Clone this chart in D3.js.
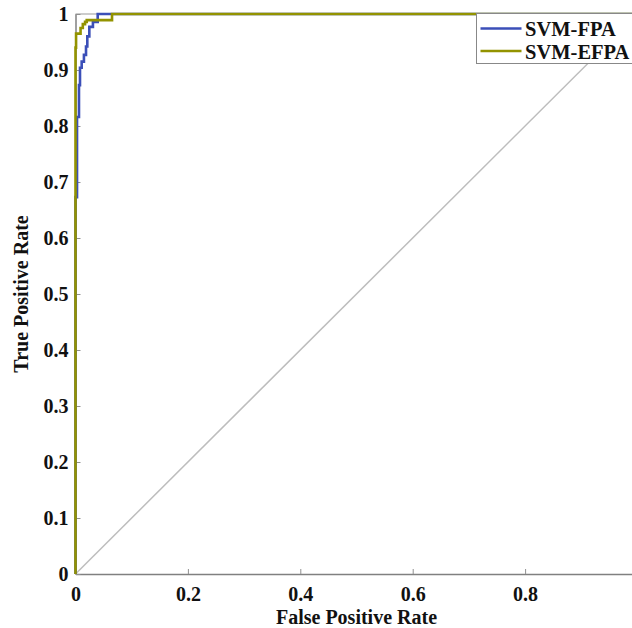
<!DOCTYPE html>
<html><head><meta charset="utf-8">
<script src="https://cdn.jsdelivr.net/npm/d3@7"></script>
<style>body{margin:0;background:#fff}svg{display:block}text{font-family:"Liberation Serif","Times New Roman",serif;font-weight:bold}</style>
</head><body>
<svg id="c" width="632" height="628"></svg>
<script>
const seriesNames = ["SVM-FPA", "SVM-EFPA"];
const seriesColors = ["#3b4fb8", "#939300"];
// ROC staircase points (FPR, TPR)
const fprFPA  = [0, 0, 0.0027, 0.0027, 0.0062, 0.0062, 0.008, 0.008, 0.011, 0.011, 0.015, 0.015, 0.0187, 0.0187, 0.021, 0.021, 0.0246, 0.0246, 0.031, 0.031, 0.0395, 0.0395, 1];
const tprFPA  = [0, 0.673, 0.673, 0.816, 0.816, 0.873, 0.873, 0.904, 0.904, 0.915, 0.915, 0.927, 0.927, 0.942, 0.942, 0.96, 0.96, 0.977, 0.977, 0.986, 0.986, 1, 1];
const fprEFPA = [0, 0, 0.001, 0.001, 0.009, 0.009, 0.013, 0.013, 0.017, 0.017, 0.02, 0.02, 0.065, 0.065, 1];
const tprEFPA = [0, 0.94, 0.94, 0.965, 0.965, 0.975, 0.975, 0.982, 0.982, 0.986, 0.986, 0.989, 0.989, 1, 1];
const xTicks = [0, 0.2, 0.4, 0.6, 0.8, 1];
const yTicks = [0, 0.1, 0.2, 0.3, 0.4, 0.5, 0.6, 0.7, 0.8, 0.9, 1];

const svg = d3.select("#c");
const x = d3.scaleLinear().domain([0, 1]).range([75.5, 637.5]);
const y = d3.scaleLinear().domain([0, 1]).range([574, 14]);
const fmt = d => d === 0 ? "0" : d === 1 ? "1" : d3.format(".1f")(d);

// frame (top + right)
svg.append("path").attr("d", `M${x(0)},${y(1)}H${x(1)}V${y(0)}`).attr("fill", "none").attr("stroke", "#999").attr("stroke-width", 1);

// diagonal
svg.append("line").attr("x1", x(0)).attr("y1", y(0)).attr("x2", x(1)).attr("y2", y(1))
  .attr("stroke", "#bdbdbd").attr("stroke-width", 1.5);

// axes
const xAxis = svg.append("g").attr("transform", `translate(0,${y(0)})`)
  .call(d3.axisBottom(x).tickValues(xTicks).tickFormat(fmt).tickSizeInner(-5).tickSizeOuter(0).tickPadding(13));
const yAxis = svg.append("g").attr("transform", `translate(${x(0)},0)`)
  .call(d3.axisLeft(y).tickValues(yTicks).tickFormat(fmt).tickSizeInner(-5).tickSizeOuter(0).tickPadding(7));
[xAxis, yAxis].forEach(g => {
  g.select(".domain").attr("stroke", "#808080").attr("stroke-width", 1.5);
  g.selectAll(".tick line").attr("stroke", "#909090");
  g.selectAll(".tick text").attr("font-size", 20).attr("fill", "#111")
    .style("font-family", '"Liberation Serif",serif').style("font-weight", "bold");
});

// curves
const line = d3.line().x(d => x(d[0])).y(d => y(d[1]));
const data = [d3.zip(fprFPA, tprFPA), d3.zip(fprEFPA, tprEFPA)];
data.forEach((pts, i) => {
  svg.append("path").datum(pts).attr("d", line).attr("fill", "none")
    .attr("stroke", seriesColors[i]).attr("stroke-width", 2.6);
});

// axis labels
svg.append("text").attr("x", (x(0) + x(1)) / 2).attr("y", 624).attr("text-anchor", "middle")
  .attr("font-size", 20).attr("fill", "#111").text("False Positive Rate");
svg.append("text").attr("transform", `translate(28,${(y(0) + y(1)) / 2}) rotate(-90)`)
  .attr("text-anchor", "middle").attr("font-size", 20).attr("fill", "#111").text("True Positive Rate");

// legend
const lg = svg.append("g").attr("transform", "translate(476.5,13.5)");
lg.append("rect").attr("width", 170).attr("height", 50).attr("fill", "#fff").attr("stroke", "#888").attr("stroke-width", 1);
seriesNames.forEach((n, i) => {
  const cy = 15 + i * 22.5;
  lg.append("line").attr("x1", 4).attr("x2", 45).attr("y1", cy).attr("y2", cy)
    .attr("stroke", seriesColors[i]).attr("stroke-width", 2.5);
  lg.append("text").attr("x", 48.5).attr("y", cy + 7.5).attr("font-size", 20.5).attr("fill", "#111").text(n);
});
</script>
</body></html>
